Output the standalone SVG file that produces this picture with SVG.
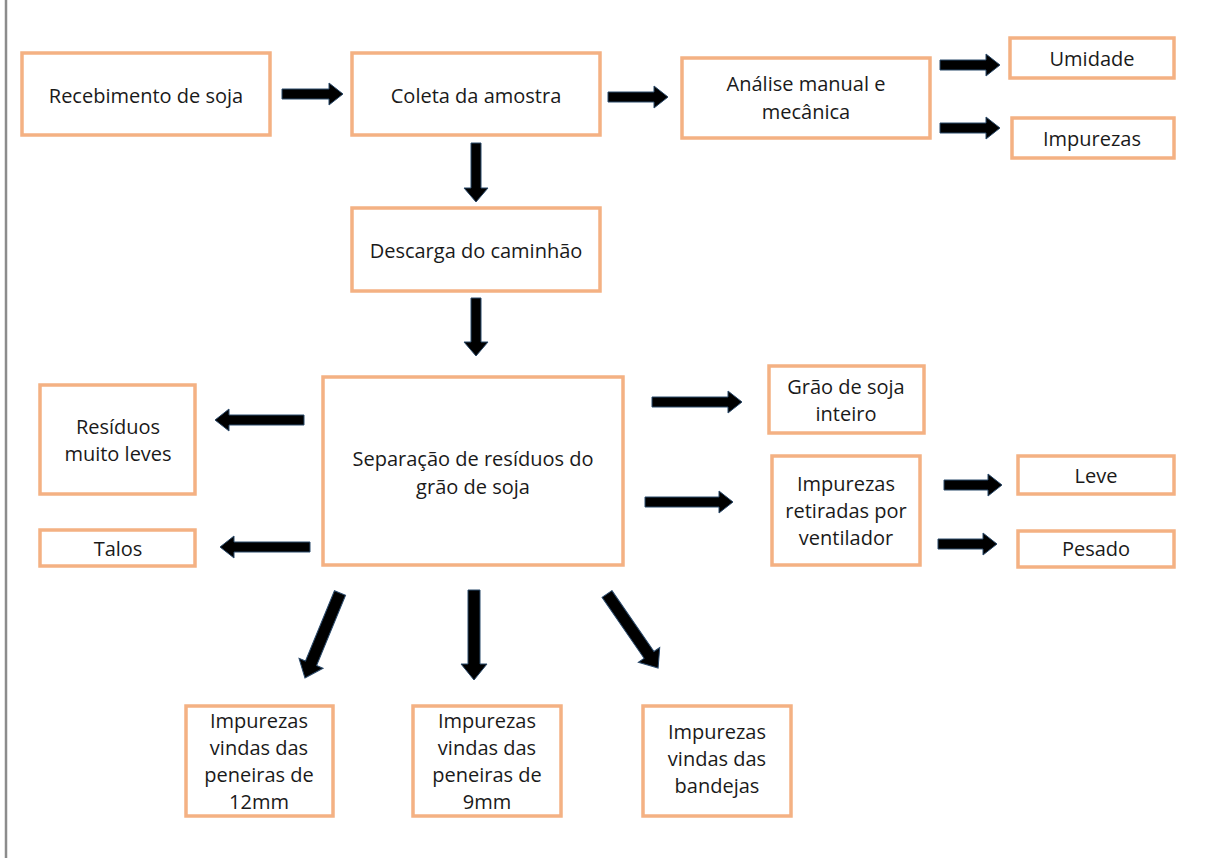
<svg xmlns="http://www.w3.org/2000/svg" width="1212" height="861" viewBox="0 0 1212 861">
<style>
.box{fill:#fff;stroke:#F4B183;stroke-width:3.5}
.t{font-family:"Open Sans","Liberation Sans",sans-serif;font-size:20px;fill:#1a1a1a;text-anchor:middle;dominant-baseline:central}
.arr{fill:#000;stroke:#2b4a6b;stroke-width:1;stroke-linejoin:miter}
</style>
<rect width="1212" height="861" fill="#fff"/>
<line x1="6" y1="0" x2="6" y2="858" stroke="#8c8c8c" stroke-width="2.5"/>
<g id="connectors">
<path class="arr" transform="translate(282,94)" d="M0,-5 H47 V-11 L61,0 L47,11 V5 H0 Z"/>
<path class="arr" transform="translate(608,97)" d="M0,-5 H46 V-11 L60,0 L46,11 V5 H0 Z"/>
<path class="arr" transform="translate(940,65)" d="M0,-5 H46 V-11 L60,0 L46,11 V5 H0 Z"/>
<path class="arr" transform="translate(940,128)" d="M0,-5 H46 V-11 L60,0 L46,11 V5 H0 Z"/>
<path class="arr" transform="translate(652,402)" d="M0,-5 H76 V-11 L90,0 L76,11 V5 H0 Z"/>
<path class="arr" transform="translate(645,502)" d="M0,-5 H74 V-11 L88,0 L74,11 V5 H0 Z"/>
<path class="arr" transform="translate(944,485)" d="M0,-5 H44 V-11 L58,0 L44,11 V5 H0 Z"/>
<path class="arr" transform="translate(938,544)" d="M0,-5 H45 V-11 L59,0 L45,11 V5 H0 Z"/>
<path class="arr" transform="translate(304,420) rotate(180)" d="M0,-5 H75 V-11 L89,0 L75,11 V5 H0 Z"/>
<path class="arr" transform="translate(310,547) rotate(180)" d="M0,-5 H76 V-11 L90,0 L76,11 V5 H0 Z"/>
<path class="arr" transform="translate(476,143) rotate(90)" d="M0,-5 H45 V-12 L59,0 L45,12 V5 H0 Z"/>
<path class="arr" transform="translate(476,298) rotate(90)" d="M0,-5 H44 V-12 L58,0 L44,12 V5 H0 Z"/>
<path class="arr" transform="translate(474,590) rotate(90)" d="M0,-6 H74 V-13 L90,0 L74,13 V6 H0 Z"/>
<path class="arr" transform="translate(340,593) rotate(112.4)" d="M0,-6 H76 V-13 L92,0 L76,13 V6 H0 Z"/>
<path class="arr" transform="translate(607,594) rotate(55.4)" d="M0,-6 H74 V-13 L90,0 L74,13 V6 H0 Z"/>
</g>
<g id="n-recebimento"><rect class="box" x="22" y="53" width="248" height="82"/><text class="t" x="146" y="95">Recebimento de soja</text></g>
<g id="n-coleta"><rect class="box" x="352" y="53" width="248" height="82"/><text class="t" x="476" y="95">Coleta da amostra</text></g>
<g id="n-analise"><rect class="box" x="682" y="58" width="248" height="80"/><text class="t" x="806" y="83">Análise manual e</text><text class="t" x="806" y="111">mecânica</text></g>
<g id="n-umidade"><rect class="box" x="1010" y="38" width="164" height="40"/><text class="t" x="1092" y="58">Umidade</text></g>
<g id="n-impurezas"><rect class="box" x="1012" y="118" width="162" height="40"/><text class="t" x="1092" y="138">Impurezas</text></g>
<g id="n-descarga"><rect class="box" x="352" y="208" width="248" height="83"/><text class="t" x="476" y="250">Descarga do caminhão</text></g>
<g id="n-separacao"><rect class="box" x="323" y="377" width="300" height="188"/><text class="t" x="473" y="458">Separação de resíduos do</text><text class="t" x="473" y="486">grão de soja</text></g>
<g id="n-residuos"><rect class="box" x="40" y="385" width="155" height="109"/><text class="t" x="118" y="426">Resíduos</text><text class="t" x="118" y="453">muito leves</text></g>
<g id="n-talos"><rect class="box" x="40" y="530" width="155" height="36"/><text class="t" x="118" y="548">Talos</text></g>
<g id="n-grao"><rect class="box" x="769" y="366" width="155" height="67"/><text class="t" x="846" y="386">Grão de soja</text><text class="t" x="846" y="413">inteiro</text></g>
<g id="n-ventilador"><rect class="box" x="772" y="456" width="148" height="109"/><text class="t" x="846" y="483">Impurezas</text><text class="t" x="846" y="510">retiradas por</text><text class="t" x="846" y="537">ventilador</text></g>
<g id="n-leve"><rect class="box" x="1018" y="456" width="156" height="38"/><text class="t" x="1096" y="475">Leve</text></g>
<g id="n-pesado"><rect class="box" x="1018" y="531" width="156" height="36"/><text class="t" x="1096" y="548">Pesado</text></g>
<g id="n-12mm"><rect class="box" x="186" y="706" width="147" height="110"/><text class="t" x="259" y="720">Impurezas</text><text class="t" x="259" y="747">vindas das</text><text class="t" x="259" y="774">peneiras de</text><text class="t" x="259" y="801">12mm</text></g>
<g id="n-9mm"><rect class="box" x="413" y="706" width="148" height="110"/><text class="t" x="487" y="720">Impurezas</text><text class="t" x="487" y="747">vindas das</text><text class="t" x="487" y="774">peneiras de</text><text class="t" x="487" y="801">9mm</text></g>
<g id="n-bandejas"><rect class="box" x="643" y="706" width="148" height="110"/><text class="t" x="717" y="731">Impurezas</text><text class="t" x="717" y="758">vindas das</text><text class="t" x="717" y="785">bandejas</text></g>
</svg>
